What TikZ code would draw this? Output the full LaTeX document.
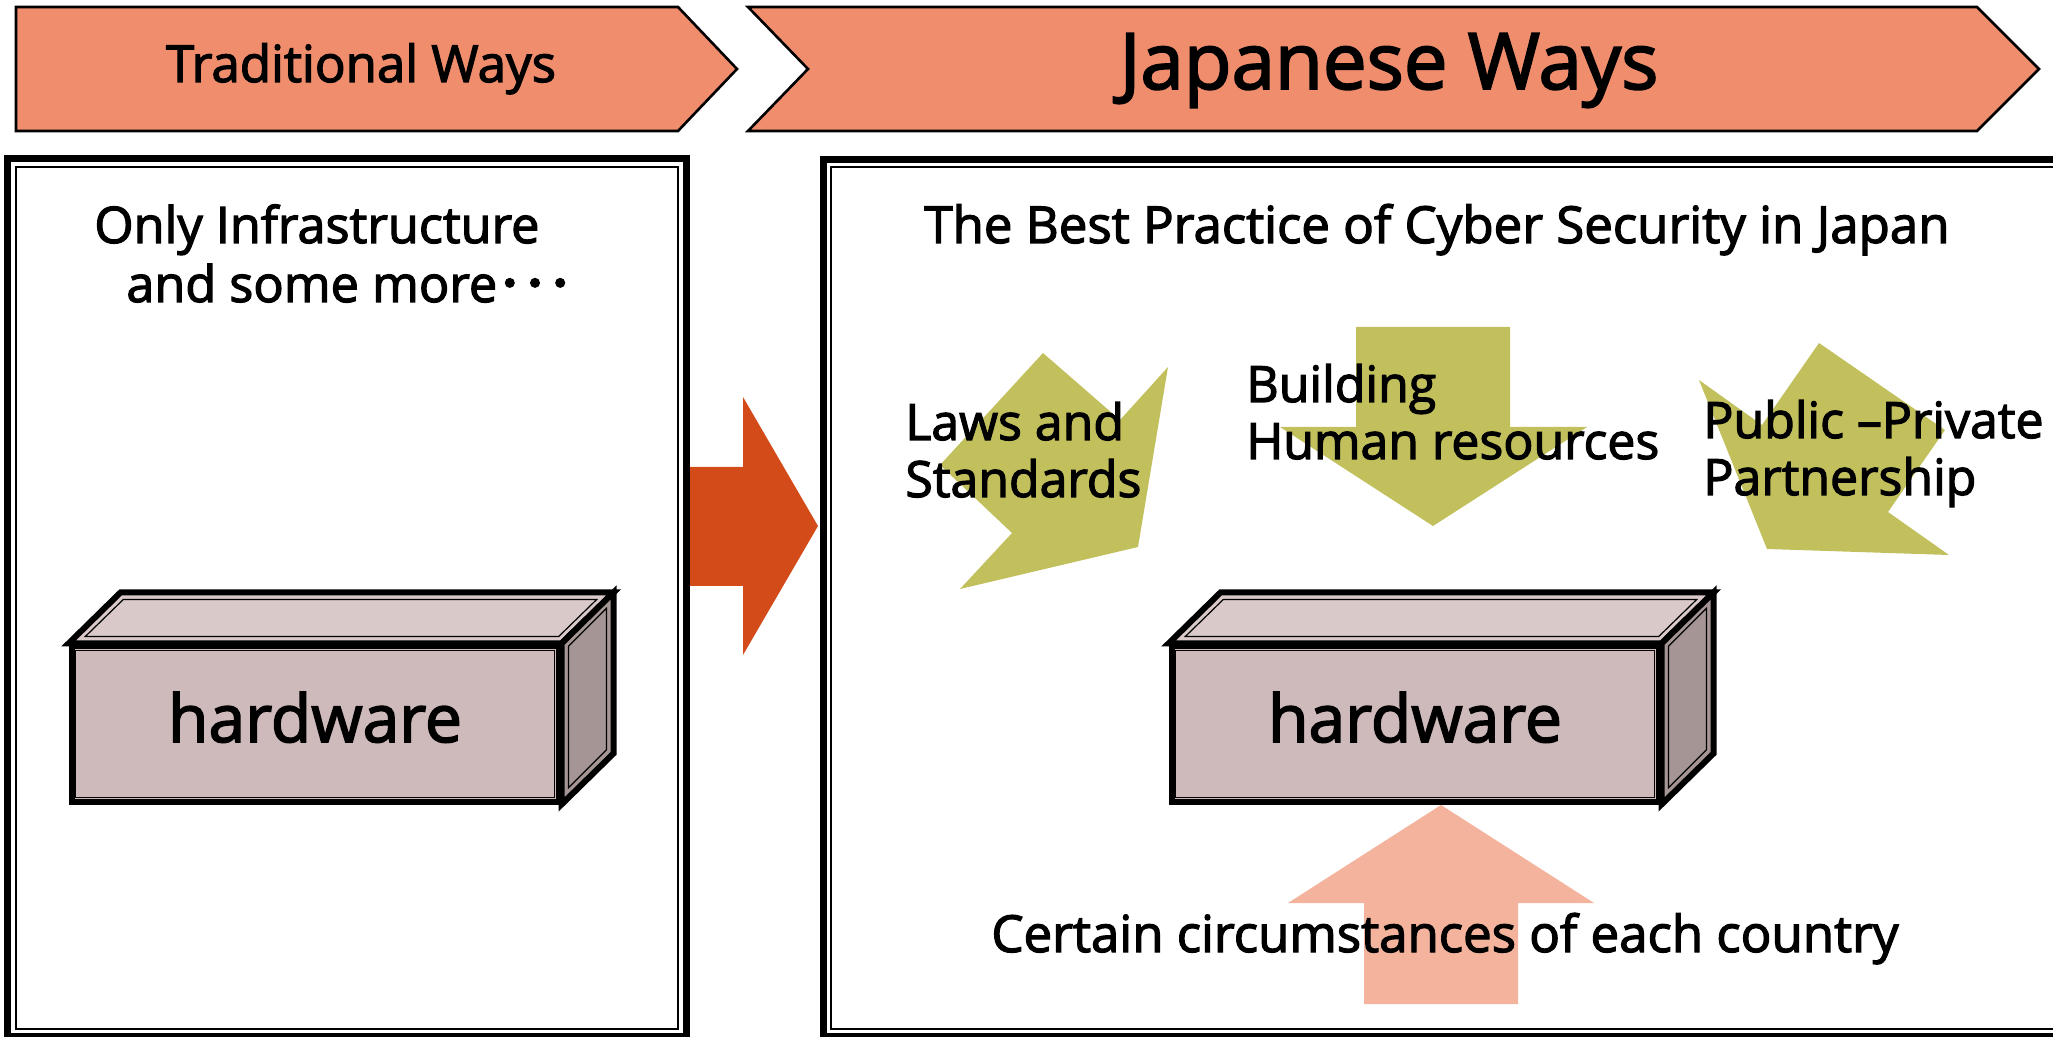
\documentclass[tikz,border=0pt]{standalone}
\usepackage{fontspec}
\setmainfont{Open Sans}[FakeBold=2.4]
\newfontfamily\cjk{Noto Sans CJK JP}[FakeBold=3]
\usepackage{tikz}
\usepackage{xcolor}
\definecolor{bannerFill}{RGB}{239,141,109}
\definecolor{shiftRed}{RGB}{212,75,26}
\definecolor{oliveFill}{RGB}{194,192,92}
\definecolor{salmonFill}{RGB}{243,179,156}
\definecolor{hwFront}{RGB}{207,186,187}
\definecolor{hwTop}{RGB}{218,201,201}
\definecolor{hwSide}{RGB}{166,149,149}
\tikzset{
    panel-frame/.style = {draw=black, line width=3.5pt},
    panel-inner/.style = {draw=black, line width=0.75pt},
    banner/.style = {draw=black, fill=bannerFill, line width=1.3pt},
    banner-title/.style = {inner sep=0pt, anchor=base},
    hw-front/.style = {draw=black, fill=hwFront, line width=3pt, minimum width=243.5pt, minimum height=77.5pt, inner sep=0pt, text depth=7pt, font=\fontsize{33}{38}\selectfont},
    hw-face/.style = {draw=black, line width=3pt},
    hw-inner/.style = {draw=black, line width=0.6pt},
    caption/.style = {font=\fontsize{25}{28.5}\selectfont, align=left, inner sep=0pt, anchor=base west},
}

\begin{document}
\begin{tikzpicture}[x=0.5pt, y=-0.5pt]
\useasboundingbox (0,0) rectangle (2053,1037);
\clip (0,0) rectangle (2053,1037);

% banners on top
\draw[banner] (16,7) -- (678,7) -- (737,69) -- (678,131) -- (16,131) -- cycle;
\draw[banner] (748,7) -- (1977,7) -- (2039,69) -- (1977,131) -- (748,131) -- (808,69) -- cycle;
\node[banner-title, font=\fontsize{25.5}{30}\selectfont] (trad-title) at (361,82) {Traditional Ways};
\node[banner-title, font=\fontsize{39}{46}\selectfont] (jp-title) at (1389,89) {Japanese Ways};

% shift arrow between the panels
\fill[shiftRed] (686,467) -- (743,467) -- (743,397) -- (818,526) -- (743,655) -- (743,586) -- (686,586) -- cycle;

% panels
\draw[panel-frame] (7.5,159) rectangle (686,1036);
\draw[panel-inner] (16,167) rectangle (678,1029);
\draw[panel-frame] (823.5,159.5) rectangle (2100,1036);
\draw[panel-inner] (831,167) rectangle (2100,1029);

% arrows round the hardware
\fill[oliveFill] (1043,353) -- (1120,420) -- (1168,367) -- (1138,547) -- (960,589) -- (1012,533) -- (940,465) -- cycle;
\fill[oliveFill] (1356,327) -- (1510,327) -- (1510,427) -- (1587,427) -- (1433,526) -- (1280,427) -- (1356,427) -- cycle;
\fill[oliveFill] (1819,343) -- (1945,430) -- (1888,512) -- (1949,555) -- (1767,549) -- (1699,380) -- (1762,425) -- cycle;
\fill[salmonFill] (1364,1004) -- (1364,903) -- (1288,903) -- (1441,805) -- (1594,903) -- (1518,903) -- (1518,1004) -- cycle;

% hardware boxes
\node[hw-front] (hw-left) at (315,724) {hardware};
\node[hw-front] (hw-right) at (1415,724) {hardware};
\foreach \hw in {hw-left,hw-right}{
    \draw[hw-inner] ([shift={(3.5pt,-3.5pt)}]\hw.north west) rectangle ([shift={(-3.5pt,3.5pt)}]\hw.south east);
    \draw[hw-face, fill=hwTop] (\hw.north west) -- ++(26pt,25.5pt) -- ([shift={(26pt,25.5pt)}]\hw.north east) -- (\hw.north east) -- cycle;
    \draw[hw-inner] ([shift={(8.4pt,3.5pt)}]\hw.north west) -- ([shift={(27.4pt,22pt)}]\hw.north west) -- ([shift={(17.6pt,22pt)}]\hw.north east) -- ([shift={(-1.4pt,3.5pt)}]\hw.north east) -- cycle;
    \draw[hw-face, fill=hwSide] (\hw.north east) -- ++(26pt,25.5pt) -- ([shift={(26pt,25.5pt)}]\hw.south east) -- (\hw.south east) -- cycle;
    \draw[hw-inner] ([shift={(3.5pt,-1.4pt)}]\hw.north east) -- ([shift={(22.5pt,17.6pt)}]\hw.north east) -- ([shift={(22.5pt,27.4pt)}]\hw.south east) -- ([shift={(3.5pt,8.4pt)}]\hw.south east) -- cycle;
}

% texts
\node[caption, font=\fontsize{25.2}{29.5}\selectfont] (only-infra) at (94,302) {Only Infrastructure\\\hspace*{16pt}and some more{\cjk ･･･}};
\node[caption, font=\fontsize{25.5}{28.5}\selectfont] (best-practice) at (924,243) {The Best Practice of Cyber Security in Japan};
\node[caption] (laws) at (905,497) {Laws and\\Standards};
\node[caption] (building) at (1246,459) {Building\\Human resources};
\node[caption] (ppp) at (1703,495) {Public --Private\\Partnership};
\node[caption, font=\fontsize{25.5}{28.5}\selectfont] (circumstances) at (991,952) {Certain circumstances of each country};
\end{tikzpicture}
\end{document}
